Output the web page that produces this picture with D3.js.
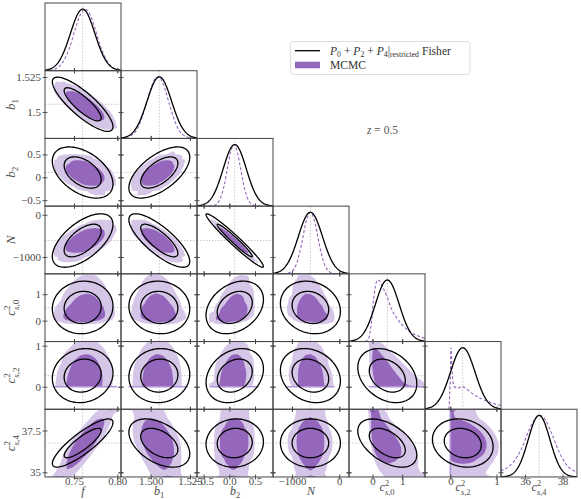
<!DOCTYPE html>
<html><head><meta charset="utf-8">
<script src="https://cdn.jsdelivr.net/npm/d3@7"></script>
<style>body{margin:0;background:#fff}svg{display:block}</style>
</head><body><svg id="c" width="581" height="499"></svg>
<script>
// ---------------- data ----------------
const params = ["f","b1","b2","N","cs0","cs2","cs4"];
const axisMin = [0.7165, 1.4811, -0.63, -1400, -0.79, -0.55, 34.72];
const axisMax = [0.8043, 1.5295, 0.85, 205, 1.77, 1.10, 38.77];
const fiducial = [0.760, 1.5055, 0.105, -610, 0.50, 0.27, 36.75];
const fisherSigma = [0.0141, 0.0078, 0.225, 255, 0.40, 0.265, 0.58];
// lower-triangle correlations (row param vs earlier params)
const fisherCorr = [
  [],
  [-0.83],
  [-0.45, 0.60],
  [0.60, -0.78, -0.97],
  [0.05, -0.05, 0.30, -0.15],
  [0.10, 0.05, 0.25, -0.20, -0.30],
  [0.85, -0.45, 0.05, 0.00, -0.50, -0.15]
];
const mcmcCorr = [
  [],
  [-0.78],
  [-0.40, 0.55],
  [0.55, -0.72, -0.97],
  [0.10, -0.10, 0.35, -0.25],
  [0.05, 0.00, 0.15, -0.10, -0.45],
  [0.85, -0.40, 0.05, 0.00, -0.55, -0.15]
];
const mcmc2dWidth = [1.1, 1.0, 1.35, 1.25, 1.0, 1.0, 1.2];
// MCMC 1D marginals (relative height)
const mcmcX_f   = [0.716, 0.725, 0.735, 0.745, 0.752, 0.758, 0.763, 0.768, 0.774, 0.780, 0.788, 0.796, 0.804];
const mcmcP_f   = [0.0015, 0.014, 0.099, 0.38, 0.70, 0.93, 1.0, 0.93, 0.70, 0.42, 0.16, 0.04, 0.007];
const mcmcX_b1  = [1.481, 1.487, 1.492, 1.496, 1.500, 1.503, 1.505, 1.508, 1.512, 1.516, 1.520, 1.526, 1.5295];
const mcmcP_b1  = [0.003, 0.04, 0.18, 0.46, 0.80, 0.98, 1.0, 0.88, 0.55, 0.24, 0.07, 0.006, 0.001];
const mcmcX_b2  = [-0.40, -0.30, -0.20, -0.10, -0.03, 0.03, 0.09, 0.15, 0.21, 0.30, 0.40, 0.50, 0.60];
const mcmcP_b2  = [0.0008, 0.011, 0.083, 0.34, 0.65, 0.90, 1.0, 0.90, 0.65, 0.27, 0.059, 0.007, 0.0005];
const mcmcX_N   = [-1300, -1150, -1000, -900, -800, -700, -610, -520, -420, -320, -220, -100, 50];
const mcmcP_N   = [0.00005, 0.0023, 0.042, 0.17, 0.47, 0.85, 1.0, 0.85, 0.47, 0.17, 0.042, 0.0045, 0.0001];
const mcmcX_cs0 = [-0.25, -0.15, -0.05, 0.03, 0.10, 0.17, 0.25, 0.35, 0.50, 0.65, 0.80, 1.00, 1.20, 1.40, 1.60, 1.77];
const mcmcP_cs0 = [0, 0.03, 0.25, 0.65, 0.90, 1.0, 0.98, 0.88, 0.72, 0.52, 0.40, 0.27, 0.18, 0.12, 0.08, 0.05];
const mcmcX_cs2 = [-0.03, 0.0, 0.015, 0.04, 0.08, 0.15, 0.25, 0.35, 0.45, 0.60, 0.80, 1.00, 1.10];
const mcmcP_cs2 = [0, 0.55, 1.0, 0.60, 0.38, 0.34, 0.37, 0.33, 0.27, 0.20, 0.13, 0.08, 0.06];
const mcmcX_cs4 = [34.7, 35.0, 35.4, 35.8, 36.2, 36.5, 36.8, 37.1, 37.4, 37.8, 38.2, 38.8];
const mcmcP_cs4 = [0.10, 0.14, 0.25, 0.45, 0.75, 0.93, 1.0, 0.92, 0.72, 0.42, 0.20, 0.08];
// c_s2 profile as seen in the 2D panels (samples piled at the c_s2 = 0 boundary drawn as a line)
const mcmc2dX_cs2 = [-0.01, 0.0, 0.1, 0.2, 0.3, 0.4, 0.5, 0.6, 0.7, 0.8, 0.9, 1.0, 1.1];
const mcmc2dP_cs2 = [0, 1.0, 1.0, 0.97, 0.92, 0.84, 0.73, 0.6, 0.48, 0.36, 0.26, 0.18, 0.12];
const mcmcX = [mcmcX_f, mcmcX_b1, mcmcX_b2, mcmcX_N, mcmcX_cs0, mcmcX_cs2, mcmcX_cs4];
const mcmcP = [mcmcP_f, mcmcP_b1, mcmcP_b2, mcmcP_N, mcmcP_cs0, mcmcP_cs2, mcmcP_cs4];
const mcmc2dX = [mcmcX_f, mcmcX_b1, mcmcX_b2, mcmcX_N, mcmcX_cs0, mcmc2dX_cs2, mcmcX_cs4];
const mcmc2dP = [mcmcP_f, mcmcP_b1, mcmcP_b2, mcmcP_N, mcmcP_cs0, mcmc2dP_cs2, mcmcP_cs4];
const boundaryParam = 5, boundaryValue = 0;
// ticks
const xTicks = [[0.75,0.80],[1.5,1.525],[-0.5,0,0.5],[-1000,0],[0,1],[0,1],[36,38]];
const xTickLabels = [["0.75","0.80"],["1.500","1.525"],["\u22120.5","0.0","0.5"],["\u22121000","0"],["0","1"],["0","1"],["36","38"]];
const yTicks = [[],[1.5,1.525],[-0.5,0,0.5],[-1000,0],[0,1],[0,1],[35,37.5]];
const yTickLabels = [[],["1.5","1.525"],["\u22120.5","0","0.5"],["\u22121000","0"],["0","1"],["0","1"],["35","37.5"]];
const labelBase = ["f","b","b","N","c","c","c"];
const labelSub  = ["","1","2","","s,0","s,2","s,4"];
const labelSup  = ["","","","","2","2","2"];

// ---------------- layout / style ----------------
const leftX = 45, topY = 3, pw = 76, ph = 67.71, n = 7;
const serif = "'Liberation Serif','DejaVu Serif',serif";
const frameCol = "#444", textCol = "#4a4a4a";
const darkFill = "#9467bd", lightFill = "#d5c5e7", dashCol = "#9467bd", edgeLine = "#b596d6";
const svg = d3.select("#c");
const defs = svg.append("defs");

// ---------------- helpers ----------------
function makeMarg(xs, ps){
  const m = xs.length, cum = [0];
  for (let k=1;k<m;k++) cum.push(cum[k-1] + 0.5*(ps[k]+ps[k-1])*(xs[k]-xs[k-1]));
  const tot = cum[m-1];
  const seg = x => Math.min(m-2, Math.max(0, d3.bisectRight(xs, x)-1));
  return {
    pdf: x => { if (x<xs[0]||x>xs[m-1]) return 0; const k=seg(x); const t=(x-xs[k])/(xs[k+1]-xs[k]); return (ps[k]+(ps[k+1]-ps[k])*t)/tot; },
    cdf: x => { if (x<=xs[0]) return 0; if (x>=xs[m-1]) return 1; const k=seg(x); const dx=x-xs[k], w=xs[k+1]-xs[k]; return (cum[k]+ps[k]*dx+(ps[k+1]-ps[k])*dx*dx/(2*w))/tot; },
    quant: q => { for (let k=1;k<m;k++){ if (cum[k]/tot>=q){ const c0=cum[k-1]/tot, c1=cum[k]/tot; return xs[k-1]+(xs[k]-xs[k-1])*(c1>c0?(q-c0)/(c1-c0):0); } } return xs[m-1]; }
  };
}
function Phi(z){ const t=1/(1+0.2316419*Math.abs(z)); const d=0.3989423*Math.exp(-z*z/2);
  const p=d*t*(0.3193815+t*(-0.3565638+t*(1.781478+t*(-1.821256+t*1.330274)))); return z>0?1-p:p; }
function probit(p){
  p = Math.min(1-1e-12, Math.max(1e-12, p));
  const a=[-3.969683028665376e+01,2.209460984245205e+02,-2.759285104469687e+02,1.383577518672690e+02,-3.066479806614716e+01,2.506628277459239e+00];
  const b=[-5.447609879822406e+01,1.615858368580409e+02,-1.556989798598866e+02,6.680131188771972e+01,-1.328068155288572e+01];
  const c=[-7.784894002430293e-03,-3.223964580411365e-01,-2.400758277161838e+00,-2.549732539343734e+00,4.374664141464968e+00,2.938163982698783e+00];
  const d=[7.784695709041462e-03,3.224671290700398e-01,2.445134137142996e+00,3.754408661907416e+00];
  const pl=0.02425;
  if (p<pl){const q=Math.sqrt(-2*Math.log(p)); return (((((c[0]*q+c[1])*q+c[2])*q+c[3])*q+c[4])*q+c[5])/((((d[0]*q+d[1])*q+d[2])*q+d[3])*q+1);}
  if (p<=1-pl){const q=p-0.5, r=q*q; return (((((a[0]*r+a[1])*r+a[2])*r+a[3])*r+a[4])*r+a[5])*q/(((((b[0]*r+b[1])*r+b[2])*r+b[3])*r+b[4])*r+1);}
  const q=Math.sqrt(-2*Math.log(1-p)); return -(((((c[0]*q+c[1])*q+c[2])*q+c[3])*q+c[4])*q+c[5])/((((d[0]*q+d[1])*q+d[2])*q+d[3])*q+1);
}
const margs2d = mcmc2dX.map((xs,k)=>makeMarg(xs, mcmc2dP[k]));

function addLabel(sel, k, fs){
  sel.append("tspan").attr("font-style","italic").text(labelBase[k]);
  const sfs = fs*0.7;
  if (labelSup[k]) {
    sel.append("tspan").attr("font-size",sfs).attr("dy",-fs*0.42).text(labelSup[k]);
    sel.append("tspan").attr("font-size",sfs).attr("font-style","italic").attr("dx",-sfs*0.5).attr("dy",fs*0.72).text(labelSub[k][0]);
    sel.append("tspan").attr("font-size",sfs).text(labelSub[k].slice(1));
  } else if (labelSub[k]) {
    sel.append("tspan").attr("font-size",sfs).attr("dy",fs*0.25).text(labelSub[k]);
  }
}

function ticksOn(g, scale, vals, side, pos){
  const ax = side==="h" ? d3.axisBottom(scale) : d3.axisRight(scale);
  ax.tickValues(vals).tickSize(5).tickFormat("");
  const t = g.append("g").attr("transform", side==="h" ? `translate(0,${pos-2.5})` : `translate(${pos-2.5},0)`).call(ax);
  t.select(".domain").remove();
  t.selectAll("line").attr("stroke",frameCol).attr("stroke-width",0.9);
}

const r68 = Math.sqrt(2.30), r95 = Math.sqrt(6.17);

// ---------------- panels ----------------
for (let i=0;i<n;i++){
  for (let j=0;j<=i;j++){
    const x0 = leftX + j*pw, y0 = topY + i*ph;
    const xs = d3.scaleLinear().domain([axisMin[j], axisMax[j]]).range([x0, x0+pw]);
    const cid = `clip-${i}-${j}`;
    defs.append("clipPath").attr("id",cid).append("rect").attr("x",x0).attr("y",y0).attr("width",pw).attr("height",ph);
    const pg = svg.append("g");
    const cg = pg.append("g").attr("clip-path",`url(#${cid})`);
    if (i===j){
      const ys = d3.scaleLinear().domain([0,1.1]).range([y0+ph, y0]);
      cg.append("line").attr("x1",xs(fiducial[j])).attr("x2",xs(fiducial[j])).attr("y1",y0).attr("y2",y0+ph)
        .attr("stroke","#bdbdbd").attr("stroke-width",0.8).attr("stroke-dasharray","1.5,1.5");
      const grid = d3.range(0,201).map(k => axisMin[j] + (axisMax[j]-axisMin[j])*k/200);
      const gauss = grid.map(x => [x, Math.exp(-0.5*Math.pow((x-fiducial[j])/fisherSigma[j],2))]);
      cg.append("path").datum(mcmcX[j].map((x,k)=>[x, mcmcP[j][k]]))
        .attr("d", d3.line().x(d=>xs(d[0])).y(d=>ys(d[1])).curve(d3.curveMonotoneX))
        .attr("fill","none").attr("stroke",dashCol).attr("stroke-width",1.1).attr("stroke-dasharray","3,2");
      cg.append("path").datum(gauss).attr("d", d3.line().x(d=>xs(d[0])).y(d=>ys(d[1])))
        .attr("fill","none").attr("stroke","#000").attr("stroke-width",1.3);
      pg.append("rect").attr("x",x0).attr("y",y0).attr("width",pw).attr("height",ph).attr("fill","none").attr("stroke",frameCol).attr("stroke-width",1);
      ticksOn(pg, xs, xTicks[j], "h", y0+ph);
    } else {
      const ys = d3.scaleLinear().domain([axisMin[i], axisMax[i]]).range([y0+ph, y0]);
      cg.append("line").attr("x1",xs(fiducial[j])).attr("x2",xs(fiducial[j])).attr("y1",y0).attr("y2",y0+ph)
        .attr("stroke","#bdbdbd").attr("stroke-width",0.8).attr("stroke-dasharray","1.5,1.5");
      cg.append("line").attr("x1",x0).attr("x2",x0+pw).attr("y1",ys(fiducial[i])).attr("y2",ys(fiducial[i]))
        .attr("stroke","#bdbdbd").attr("stroke-width",0.8).attr("stroke-dasharray","1.5,1.5");
      const gs = 2, nx = Math.round(pw*gs), ny = Math.round(ph*gs);
      const rho = mcmcCorr[i][j], kx = mcmc2dWidth[j], ky = mcmc2dWidth[i];
      const colF = [], colA = [], rowF = [], rowA = [];
      for (let a=0;a<nx;a++){ const v = xs.invert(x0 + (a+0.5)/gs); colF.push(margs2d[j].pdf(v)); colA.push(probit(margs2d[j].cdf(v))); }
      for (let b=0;b<ny;b++){ const v = ys.invert(y0 + (b+0.5)/gs); rowF.push(margs2d[i].pdf(v)); rowA.push(probit(margs2d[i].cdf(v))); }
      const vals = new Array(nx*ny);
      const om = 1 - rho*rho;
      for (let b=0;b<ny;b++){
        for (let a=0;a<nx;a++){
          const fx = colF[a], fy = rowF[b];
          if (fx<=0 || fy<=0) { vals[b*nx+a]=0; continue; }
          const ua = colA[a], vb = rowA[b], A = ua/kx, B = vb/ky;
          const lf = Math.log(fx)+Math.log(fy) + 0.5*ua*ua + 0.5*vb*vb - (A*A - 2*rho*A*B + B*B)/(2*om);
          vals[b*nx+a] = Math.exp(lf);
        }
      }
      const sorted = vals.slice().sort((p,q)=>q-p);
      const tot = d3.sum(sorted);
      let acc=0, t68=0, t95=0;
      for (let k=0;k<sorted.length;k++){ acc += sorted[k]; if (!t68 && acc>=0.68*tot) t68 = sorted[k]; if (!t95 && acc>=0.95*tot){ t95 = sorted[k]; break; } }
      const conts = d3.contours().size([nx,ny]).thresholds([t95, t68])(vals);
      const gp = d3.geoPath(d3.geoIdentity().scale(1/gs));
      const fg = cg.append("g").attr("transform",`translate(${x0},${y0})`);
      fg.append("path").attr("d", gp(conts[0])).attr("fill", lightFill);
      fg.append("path").attr("d", gp(conts[1])).attr("fill", darkFill);
      // samples piled on the c_s2 = 0 prior boundary
      if (i===boundaryParam){
        const lo = margs2d[j].quant(Phi(-2.5*kx)), hi = margs2d[j].quant(Phi(2.5*kx));
        cg.append("line").attr("x1",xs(lo)).attr("x2",xs(hi)).attr("y1",ys(boundaryValue)).attr("y2",ys(boundaryValue))
          .attr("stroke",edgeLine).attr("stroke-width",1.6);
      }
      if (j===boundaryParam){
        const lo = margs2d[i].quant(Phi(-2.5*ky)), hi = margs2d[i].quant(Phi(2.5*ky));
        cg.append("line").attr("y1",ys(lo)).attr("y2",ys(hi)).attr("x1",xs(boundaryValue)).attr("x2",xs(boundaryValue))
          .attr("stroke",edgeLine).attr("stroke-width",1.6);
      }
      const rf = fisherCorr[i][j], sx = fisherSigma[j], sy = fisherSigma[i];
      const ts = d3.range(0,121).map(k=>2*Math.PI*k/120);
      [r68, r95].forEach(r=>{
        const pts = ts.map(t=>[fiducial[j] + r*sx*Math.cos(t), fiducial[i] + r*sy*(rf*Math.cos(t) + Math.sqrt(1-rf*rf)*Math.sin(t))]);
        cg.append("path").datum(pts).attr("d", d3.line().x(d=>xs(d[0])).y(d=>ys(d[1])).curve(d3.curveLinearClosed))
          .attr("fill","none").attr("stroke","#000").attr("stroke-width",1.3);
      });
      pg.append("rect").attr("x",x0).attr("y",y0).attr("width",pw).attr("height",ph).attr("fill","none").attr("stroke",frameCol).attr("stroke-width",1);
      ticksOn(pg, xs, xTicks[j], "h", y0+ph);
      ticksOn(pg, xs, xTicks[j], "h", y0);
      ticksOn(pg, ys, yTicks[i], "v", x0);
      ticksOn(pg, ys, yTicks[i], "v", x0+pw);
      if (j===0){
        const ax = svg.append("g").attr("transform",`translate(${x0},0)`)
          .call(d3.axisLeft(ys).tickValues(yTicks[i]).tickSize(0).tickPadding(4).tickFormat((d,k)=>yTickLabels[i][k]));
        ax.select(".domain").remove();
        ax.selectAll("text").attr("font-family",serif).attr("font-size",11).attr("fill",textCol);
      }
    }
    if (i===n-1){
      const ax = svg.append("g").attr("transform",`translate(0,${y0+ph})`)
        .call(d3.axisBottom(xs).tickValues(xTicks[j]).tickSize(0).tickPadding(0.5).tickFormat((d,k)=>xTickLabels[j][k]));
      ax.select(".domain").remove();
      ax.selectAll("text").attr("font-family",serif).attr("font-size",10.8).attr("fill",textCol);
    }
  }
}

// axis labels
for (let k=0;k<n;k++){
  const by = labelSup[k] ? 491 : (labelSub[k] ? 495 : 494.5);
  const tx = svg.append("text").attr("x", leftX + (k+0.5)*pw).attr("y", by)
    .attr("text-anchor","middle").attr("font-family",serif).attr("font-size",12).attr("fill",textCol);
  addLabel(tx, k, 12);
  if (k>0){
    const cy = topY + (k+0.5)*ph;
    const ty = svg.append("text").attr("x", 15).attr("y", cy).attr("transform",`rotate(-90,15,${cy})`)
      .attr("text-anchor","middle").attr("font-family",serif).attr("font-size",13).attr("fill",textCol);
    addLabel(ty, k, 13);
  }
}

// legend
const lg = svg.append("g");
lg.append("rect").attr("x",290.5).attr("y",41.5).attr("width",179.5).attr("height",33).attr("rx",3)
  .attr("fill","#fff").attr("stroke","#d6d6d6").attr("stroke-width",0.8);
lg.append("line").attr("x1",295).attr("x2",320).attr("y1",50.7).attr("y2",50.7).attr("stroke","#000").attr("stroke-width",1.3);
lg.append("rect").attr("x",295).attr("y",61.7).attr("width",25).attr("height",6.6).attr("fill",darkFill);
const lt = lg.append("text").attr("x",330).attr("y",54.5).attr("font-family",serif).attr("font-size",11.6).attr("fill","#333");
const legParts = [["P","i"],["0","s"],[" + ",""],["P","i"],["2","s"],[" + ",""],["P","i"],["4","s"],["|",""],["restricted","s"],[" Fisher",""]];
let prevSub = false;
legParts.forEach(([t,st])=>{
  const ts = lt.append("tspan").text(t);
  if (st==="i") ts.attr("font-style","italic");
  if (st==="s"){ ts.attr("font-size",7.8); if(!prevSub) ts.attr("dy",2.3); prevSub = true; }
  else { if(prevSub) ts.attr("dy",-2.3); prevSub = false; }
});
lg.append("text").attr("x",330).attr("y",68.8).attr("font-family",serif).attr("font-size",11.6).attr("fill","#333").text("MCMC");

// redshift annotation
const zt = svg.append("text").attr("x",367).attr("y",133.5).attr("font-family",serif).attr("font-size",11.5).attr("fill","#555");
zt.append("tspan").attr("font-style","italic").text("z");
zt.append("tspan").text(" = 0.5");
</script>
</body></html>
